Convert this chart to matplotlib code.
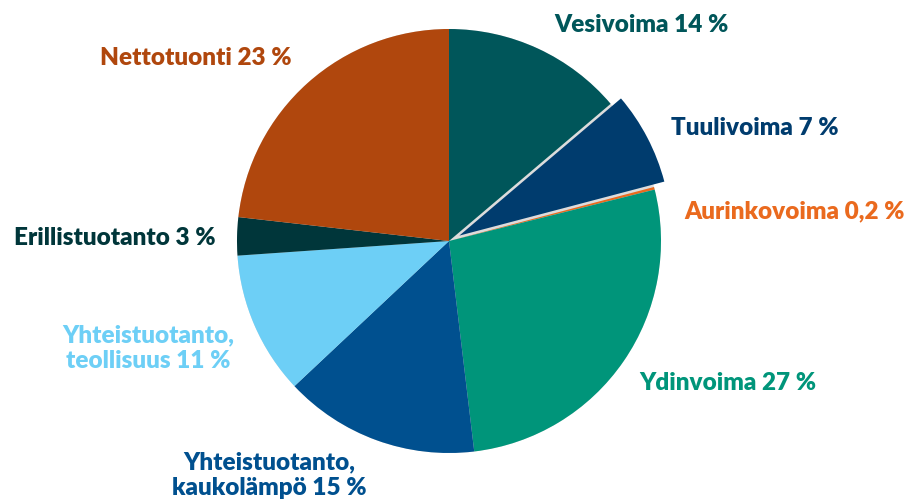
import matplotlib.pyplot as plt

# Electricity supply shares (%), clockwise from top
sources = ["Vesivoima", "Tuulivoima", "Aurinkovoima", "Ydinvoima",
           "Yhteistuotanto, kaukolämpö", "Yhteistuotanto, teollisuus",
           "Erillistuotanto", "Nettotuonti"]
shares = [13.8, 7.1, 0.2, 27.0, 14.9, 10.9, 2.9, 23.2]
labels = ["Vesivoima 14 %", "Tuulivoima 7 %", "Aurinkovoima 0,2 %",
          "Ydinvoima 27 %", "Yhteistuotanto,\nkaukolämpö 15 %",
          "Yhteistuotanto,\nteollisuus 11 %", "Erillistuotanto 3 %",
          "Nettotuonti 23 %"]
colors = ["#00565A", "#003C6E", "#EA6A1E", "#00957A",
          "#00508F", "#6DCFF6", "#00363A", "#B0470D"]

# label anchor positions in pixel coords (x, y from top)
label_pos = [(641, 25), (755, 128), (795, 211), (728, 383),
             (269, 475), (148, 348), (115, 238), (196, 58)]

W, H = 913, 503
CX, CY, R = 449, 241, 212
# explode offset in pie is absolute, so give it in pixels
explode = [0, 0.055 * R, 0, 0, 0, 0, 0, 0]

fig = plt.figure(figsize=(9.13, 5.03), dpi=100)
ax = fig.add_axes([0, 0, 1, 1])

# light grey under-layer shows through the gap of the exploded wedge
ax.pie([1], colors=["#dcdcdc"], radius=R, center=(CX, H - CY),
       wedgeprops=dict(linewidth=0), frame=True)
ax.pie(shares, colors=colors, explode=explode, startangle=90,
       counterclock=False, radius=R, center=(CX, H - CY),
       wedgeprops=dict(linewidth=0), frame=True)
ax.set_xlim(0, W)
ax.set_ylim(0, H)
ax.axis("off")

for lab, (x, y), c in zip(labels, label_pos, colors):
    ax.text(x, H - y, lab, color=c, fontsize=17.5, fontweight="heavy",
            family="Lato", ha="center", va="center", linespacing=1.2)

fig.savefig("out.png", dpi=100)
